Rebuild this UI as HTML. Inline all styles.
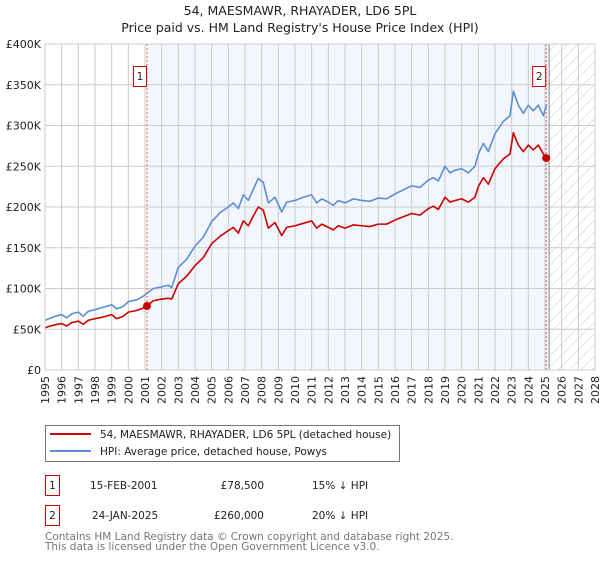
<!DOCTYPE html>
<html><head><meta charset="utf-8"><style>
body{margin:0;background:#fff;width:600px;height:560px;overflow:hidden;font-family:"DejaVu Sans","Liberation Sans",sans-serif;}
svg text{font-family:"DejaVu Sans","Liberation Sans",sans-serif;}
</style></head><body>
<svg id="c" width="600" height="560" xmlns="http://www.w3.org/2000/svg">
<defs><pattern id="hatch" width="8" height="8" patternUnits="userSpaceOnUse" patternTransform="rotate(45)"><line x1="0" y1="0" x2="0" y2="8" stroke="#ccc" stroke-width="1"/></pattern></defs>
<text x="300" y="15" text-anchor="middle" font-size="12.5" fill="#222">54, MAESMAWR, RHAYADER, LD6 5PL</text>
<text x="300" y="32" text-anchor="middle" font-size="12.5" fill="#222">Price paid vs. HM Land Registry's House Price Index (HPI)</text>
<g id="plot"></g>
<g>
<rect x="45.5" y="425.5" width="354" height="36" fill="#fff" stroke="#777"/>
<line x1="50" y1="434" x2="91" y2="434" stroke="#cc0000" stroke-width="2"/>
<text x="100" y="438" font-size="10.5" fill="#222">54, MAESMAWR, RHAYADER, LD6 5PL (detached house)</text>
<line x1="50" y1="451" x2="91" y2="451" stroke="#5b8fd4" stroke-width="2"/>
<text x="100" y="455" font-size="10.5" fill="#222">HPI: Average price, detached house, Powys</text>
</g>
<g font-size="10.5" fill="#222">
<rect x="45.5" y="475.5" width="14" height="20" fill="#fff" stroke="#cc0000"/><text x="52.5" y="489" text-anchor="middle">1</text>
<text x="90" y="489">15-FEB-2001</text><text x="264" y="489" text-anchor="end">£78,500</text><text x="312" y="489">15% ↓ HPI</text>
<rect x="45.5" y="505.5" width="14" height="20" fill="#fff" stroke="#cc0000"/><text x="52.5" y="519" text-anchor="middle">2</text>
<text x="92" y="519">24-JAN-2025</text><text x="264" y="519" text-anchor="end">£260,000</text><text x="312" y="519">20% ↓ HPI</text>
</g>
<text x="45" y="540" font-size="10.5" fill="#777">Contains HM Land Registry data © Crown copyright and database right 2025.</text>
<text x="45" y="550" font-size="10.5" fill="#777">This data is licensed under the Open Government Licence v3.0.</text>
</svg>
<script>
const yTicks=[0,50,100,150,200,250,300,350,400];
const yTickLabels=["£0","£50K","£100K","£150K","£200K","£250K","£300K","£350K","£400K"];
const xYears=[1995,1996,1997,1998,1999,2000,2001,2002,2003,2004,2005,2006,2007,2008,2009,2010,2011,2012,2013,2014,2015,2016,2017,2018,2019,2020,2021,2022,2023,2024,2025,2026,2027,2028];
const dates=[1995,1995.5,1996,1996.3,1996.6,1997,1997.3,1997.6,1998,1998.5,1999,1999.3,1999.7,2000,2000.5,2001,2001.1,2001.5,2002,2002.4,2002.6,2003,2003.5,2004,2004.5,2005,2005.5,2006,2006.3,2006.6,2006.9,2007.2,2007.5,2007.8,2008.1,2008.4,2008.8,2009.2,2009.5,2010,2010.5,2011,2011.3,2011.6,2012,2012.3,2012.6,2013,2013.5,2014,2014.5,2015,2015.5,2016,2016.5,2017,2017.5,2018,2018.3,2018.6,2019,2019.3,2019.6,2020,2020.4,2020.8,2021,2021.3,2021.6,2022,2022.5,2022.9,2023.1,2023.4,2023.7,2024,2024.3,2024.6,2024.9,2025.1];
const hpiValues=[61,65,68,64,69,71,66,72,74,77,80,75,78,84,86,92,94,100,102,104,101,126,136,152,163,182,193,200,205,198,215,208,222,235,230,205,212,194,206,208,212,215,205,210,206,202,208,205,210,208,207,211,210,216,221,226,224,233,236,232,250,242,245,247,242,250,265,278,268,290,305,312,342,325,315,325,318,325,312,326];
const priceValues=[52,55,57,54,58,60,56,61,63,65,68,63,66,71,73,77,78.5,85,87,88,87,106,115,128,138,155,164,171,175,168,183,177,189,200,196,174,181,165,175,177,180,183,174,179,175,172,177,174,178,177,176,179,179,184,188,192,190,198,201,197,212,206,208,210,206,212,225,236,228,247,259,265,291,276,268,276,270,276,265,260];
const NS='http://www.w3.org/2000/svg';
const L=45,R=595,T=44,B=370;
const x=v=>L+(v-1995)*(R-L)/33;
const y=v=>B-v*(B-T)/400;
const g=document.getElementById('plot');
function el(t,a,p){const e=document.createElementNS(NS,t);for(const k in a)e.setAttribute(k,a[k]);(p||g).appendChild(e);return e;}
const shade=el('rect',{x:x(2001.12),y:T,width:x(2025.25)-x(2001.12),height:B-T,fill:'#f3f6fd'});


const hatch=el('rect',{x:x(2025.25),y:T,width:R-x(2025.25),height:B-T,fill:'url(#hatch)'});


yTicks.forEach((v,i)=>{
 const ln=el('line',{x1:L,x2:R,y1:y(v),y2:y(v),stroke:'#ccc','stroke-width':1});
 
 
 const t=el('text',{x:L-4,y:y(v)+4,'text-anchor':'end','font-size':11,fill:'#222'});
 t.textContent=yTickLabels[i];
 
 
});
xYears.forEach(v=>{
 const ln=el('line',{x1:x(v),x2:x(v),y1:T,y2:B,stroke:'#ccc','stroke-width':1});
 
 
 const t=el('text',{transform:`translate(${x(v)+4},${B+6}) rotate(-90)`,'text-anchor':'end','font-size':11,fill:'#222'});
 t.textContent=v;
 
 
});
const ax=el('line',{x1:x(2025.25),x2:x(2025.25),y1:T,y2:B,stroke:'#888','stroke-width':1});


function line(vals,col,name){
 const p=el('polyline',{points:dates.map((d,i)=>x(d)+','+y(vals[i])).join(' '),fill:'none',stroke:col,'stroke-width':1.6,'stroke-linejoin':'round'});
 
 
}
line(hpiValues,'#5b8fd4','hpi-line');
line(priceValues,'#cc0000','price-paid-line');
const sales=[[2001.12,78.5,'1'],[2025.07,260,'2']];
sales.forEach(s=>{
 const v=el('line',{x1:x(s[0]),x2:x(s[0]),y1:T,y2:B,stroke:'#e06060','stroke-dasharray':'2,2','stroke-width':1});
 
 
 const c=el('circle',{cx:x(s[0]),cy:y(s[1]),r:4,fill:'#cc0000'});
 
 
 const b=el('rect',{x:x(s[0])-13.5,y:66.5,width:13,height:20,fill:'#fff',stroke:'#cc0000'});
 
 
 const t=el('text',{x:x(s[0])-7,y:80,'text-anchor':'middle','font-size':10.5,fill:'#222'});
 t.textContent=s[2];
 
 
});
const fr=el('rect',{x:L,y:T,width:R-L,height:B-T,fill:'none',stroke:'#ccc'});


</script>
</body></html>
